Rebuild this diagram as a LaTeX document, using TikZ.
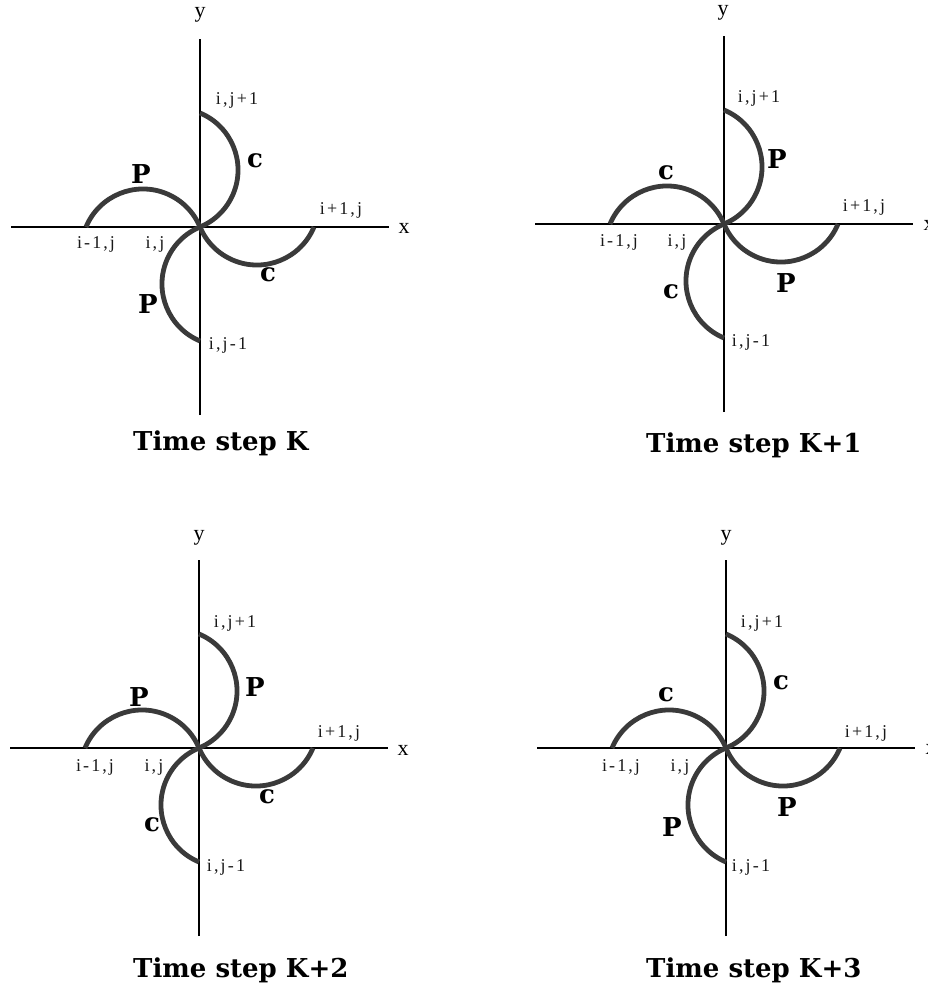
\documentclass[tikz,border=0pt]{standalone}
\usepackage{fontspec}
\setmainfont{Liberation Serif}
\newfontfamily\heavyfont{DejaVu Serif}
\definecolor{wingcol}{HTML}{3A3A3A}
\tikzset{
  axisline/.style={line width=2.6pt, draw=black},
  wing/.style={line width=4.8pt, draw=wingcol},
  coordlbl/.style={font=\fontsize{18}{18}\selectfont\addfontfeature{LetterSpace=12}, inner sep=0pt, text=black!90},
  axislbl/.style={font=\fontsize{22}{22}\selectfont, inner sep=0pt},
  pclbl/.style={font=\heavyfont\bfseries\fontsize{26}{26}\selectfont, inner sep=0pt},
  titlelbl/.style={font=\heavyfont\bfseries\fontsize{26}{26}\selectfont, inner sep=0pt, anchor=west}
}
\newcommand\pinwheel[1]{%
  \coordinate (#1C) at (0,0);
  \coordinate (#1T) at (0,114);
  \coordinate (#1R) at (114,0);
  \coordinate (#1B) at (0,-114);
  \coordinate (#1L) at (-114,0);
  \coordinate (#1xa) at (-189,0);
  \coordinate (#1xb) at (189,0);
  \coordinate (#1ya) at (0,-188);
  \coordinate (#1yb) at (0,188);
  \draw[axisline] (#1xa) -- (#1xb);
  \draw[axisline] (#1ya) -- (#1yb);
  \draw[wing] (#1L) arc[start angle=157.4, end angle=22.6, radius=61.75];
  \draw[wing] (#1T) arc[start angle=67.4, end angle=-67.4, radius=61.75];
  \draw[wing] (#1R) arc[start angle=-22.6, end angle=-157.4, radius=61.75];
  \draw[wing] (#1B) arc[start angle=247.4, end angle=112.6, radius=61.75];
}
\begin{document}
\begin{tikzpicture}[x=1pt,y=1pt]
\useasboundingbox (0,0) rectangle (928,-987);
\clip (0,0) rectangle (928,-987);
\fill[white] (0,0) rectangle (928,-987);

% Panel 1
\begin{scope}[shift={(200,-227)}]
  \pinwheel{a}
  \node[axislbl] (a-y) at (0,212) {y};
  \node[axislbl] (a-x) at (204,-1) {x};
  \node[coordlbl] (a-t) at (37,127) {i,j+1};
  \node[pclbl] (a-u) at (55,66) {c};
  \node[pclbl] (a-l) at (-59,53) {P};
  \node[coordlbl] (a-r) at (141,17) {i+1\kern2pt,j};
  \node[coordlbl] (a-m) at (-104,-17) {i-1\kern2pt,j};
  \node[coordlbl] (a-c) at (-45,-17) {i,j};
  \node[pclbl] (a-rr) at (68,-48) {c};
  \node[pclbl] (a-b) at (-52,-77) {P};
  \node[coordlbl] (a-bb) at (28,-118) {i,j-1};
\end{scope}
\node[titlelbl] (ta) at (133,-443) {Time step K};

% Panel 2
\begin{scope}[shift={(724,-224)}]
  \pinwheel{b}
  \node[axislbl] (b-y) at (-1,211) {y};
  \node[axislbl] (b-x) at (205,-1) {x};
  \node[coordlbl] (b-t) at (35,126) {i,j+1};
  \node[pclbl] (b-u) at (53,65) {P};
  \node[pclbl] (b-l) at (-58,51) {c};
  \node[coordlbl] (b-r) at (140,17) {i+1\kern2pt,j};
  \node[coordlbl] (b-m) at (-105,-18) {i-1\kern2pt,j};
  \node[coordlbl] (b-c) at (-47,-18) {i,j};
  \node[pclbl] (b-rr) at (62,-59) {P};
  \node[pclbl] (b-b) at (-53,-68) {c};
  \node[coordlbl] (b-bb) at (27,-118) {i,j-1};
\end{scope}
\node[titlelbl] (tb) at (646,-445) {Time step K+1};

% Panel 3
\begin{scope}[shift={(199,-748)}]
  \pinwheel{c}
  \node[axislbl] (c-y) at (0,210) {y};
  \node[axislbl] (c-x) at (204,-2) {x};
  \node[coordlbl] (c-t) at (36,125) {i,j+1};
  \node[pclbl] (c-u) at (56,61) {P};
  \node[pclbl] (c-l) at (-60,51) {P};
  \node[coordlbl] (c-r) at (140,15) {i+1\kern2pt,j};
  \node[coordlbl] (c-m) at (-104,-19) {i-1\kern2pt,j};
  \node[coordlbl] (c-c) at (-45,-19) {i,j};
  \node[pclbl] (c-rr) at (68,-49) {c};
  \node[pclbl] (c-b) at (-47,-77) {c};
  \node[coordlbl] (c-bb) at (27,-119) {i,j-1};
\end{scope}
\node[titlelbl] (tc) at (133,-970) {Time step K+2};

% Panel 4
\begin{scope}[shift={(726,-748)}]
  \pinwheel{d}
  \node[axislbl] (d-y) at (0,210) {y};
  \node[axislbl] (d-x) at (205,-1) {x};
  \node[coordlbl] (d-t) at (36,125) {i,j+1};
  \node[pclbl] (d-u) at (55,65) {c};
  \node[pclbl] (d-l) at (-60,53) {c};
  \node[coordlbl] (d-r) at (140,15) {i+1\kern2pt,j};
  \node[coordlbl] (d-m) at (-105,-19) {i-1\kern2pt,j};
  \node[coordlbl] (d-c) at (-46,-19) {i,j};
  \node[pclbl] (d-rr) at (61,-59) {P};
  \node[pclbl] (d-b) at (-54,-79) {P};
  \node[coordlbl] (d-bb) at (25,-119) {i,j-1};
\end{scope}
\node[titlelbl] (td) at (646,-970) {Time step K+3};
\end{tikzpicture}
\end{document}
